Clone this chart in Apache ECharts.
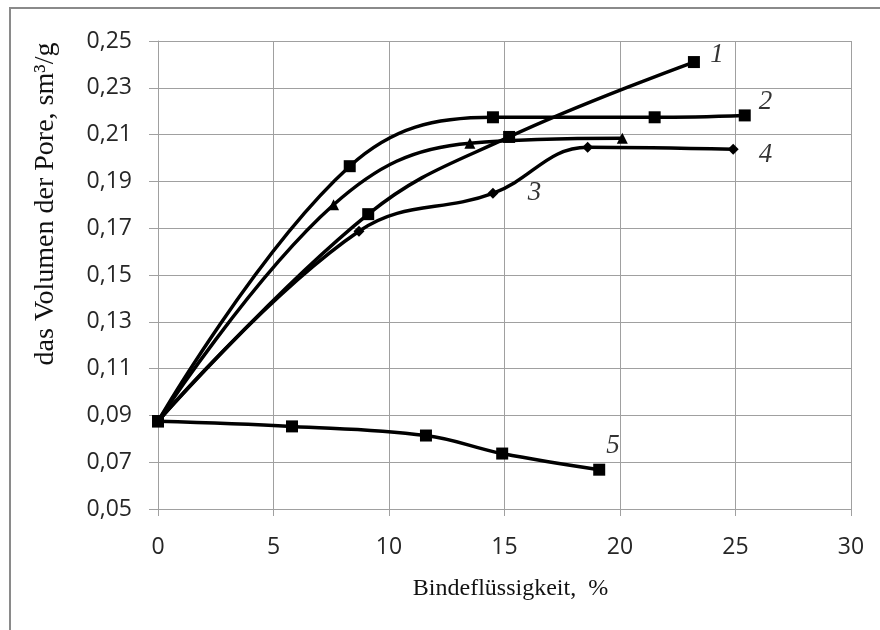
<!DOCTYPE html>
<html>
<head>
<meta charset="utf-8">
<script src="https://cdn.jsdelivr.net/npm/echarts@6/dist/echarts.min.js"></script>
<style>
html,body{margin:0;padding:0;background:#fff;}
#chart{width:880px;height:630px;}
</style>
</head>
<body>
<div id="chart"></div>
<script>
// ---- data ----
var xTicks = [0, 5, 10, 15, 20, 25, 30];
var yTicks = [0.05, 0.07, 0.09, 0.11, 0.13, 0.15, 0.17, 0.19, 0.21, 0.23, 0.25];

var series1 = [[0, 0.0875], [9.1, 0.176], [15.2, 0.209], [23.2, 0.241]];
var series2 = [[0, 0.0875], [8.3, 0.1965], [14.5, 0.2174], [21.5, 0.2174], [25.4, 0.2182]];
var series3 = [[0, 0.0875], [8.7, 0.1687], [14.5, 0.1849], [18.6, 0.2046], [24.9, 0.2037]];
var series4 = [[0, 0.0875], [7.6, 0.180], [13.5, 0.2063], [20.1, 0.2084]];
var series5 = [[0, 0.0875], [5.8, 0.0853], [11.6, 0.0814], [14.9, 0.0737], [19.1, 0.0668]];

var curveNames = ['1', '2', '3', '4', '5'];
var labelAnchors = [[24.2, 0.2439], [26.3, 0.2238], [16.3, 0.1849], [26.3, 0.2012], [19.7, 0.0768]];

// ---- chart ----
var chart = echarts.init(document.getElementById('chart'), null, {renderer: 'canvas'});

function fmt(v) { return v.toFixed(2).replace('.', ','); }

function lineSeries(name, data, symbol, size) {
  return {
    name: name,
    type: 'line',
    data: data,
    smooth: 0.4,
    symbol: symbol,
    symbolSize: size,
    showAllSymbol: true,
    lineStyle: {color: '#000', width: 3.5},
    itemStyle: {color: '#000', borderWidth: 0},
    z: 3
  };
}

var labelData = labelAnchors.map(function (p, i) { return {value: p, name: curveNames[i]}; });

var option = {
  animation: false,
  backgroundColor: '#fff',
  grid: {left: 158, right: 29, top: 41, bottom: 121, containLabel: false},
  xAxis: {
    type: 'value',
    min: xTicks[0],
    max: xTicks[xTicks.length - 1],
    interval: 5,
    name: 'Bindeflüssigkeit,  %',
    nameLocation: 'middle',
    nameGap: 68,
    nameTextStyle: {fontFamily: 'Liberation Serif', fontSize: 24, color: '#111', padding: [0, 0, 0, 12]},
    axisLine: {show: true, lineStyle: {color: '#a0a0a0', width: 1}},
    axisTick: {show: true, length: 7, lineStyle: {color: '#a0a0a0'}},
    axisLabel: {fontFamily: 'Open Sans', fontSize: 23, color: '#262626', margin: 27,
      formatter: function (v) { return String(v); }},
    splitLine: {show: true, lineStyle: {color: '#a0a0a0', width: 1}}
  },
  yAxis: {
    type: 'value',
    min: yTicks[0],
    max: yTicks[yTicks.length - 1],
    interval: 0.02,
    axisLine: {show: true, lineStyle: {color: '#a0a0a0', width: 1}},
    axisTick: {show: true, length: 9, lineStyle: {color: '#a0a0a0'}},
    axisLabel: {fontFamily: 'Open Sans', fontSize: 23, color: '#262626', margin: 26, formatter: fmt},
    splitLine: {show: true, lineStyle: {color: '#a0a0a0', width: 1}}
  },
  graphic: [
    {type: 'rect', shape: {x: 10, y: 8, width: 900, height: 700}, style: {fill: 'none', stroke: '#8a8a8a', lineWidth: 2}, silent: true},
    {type: 'text', x: 46, y: 204, rotation: Math.PI / 2,
      style: {text: 'das Volumen der Pore, sm³/g', font: '28px "Liberation Serif"', fill: '#111', textAlign: 'center', textVerticalAlign: 'middle'}}
  ],
  series: [
    lineSeries('1', series1, 'rect', 12),
    lineSeries('2', series2, 'rect', 12),
    lineSeries('3', series3, 'diamond', 11),
    lineSeries('4', series4, 'triangle', 11),
    lineSeries('5', series5, 'rect', 12),
    {
      type: 'scatter',
      data: labelData,
      symbolSize: 0,
      silent: true,
      label: {show: true, position: 'inside', formatter: function (p) { return p.name; },
        fontFamily: 'Liberation Serif', fontStyle: 'italic', fontSize: 27, color: '#000'},
      z: 5
    }
  ]
};
chart.setOption(option);
</script>
</body>
</html>
